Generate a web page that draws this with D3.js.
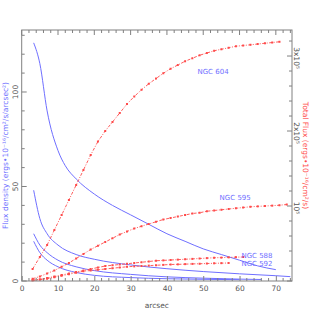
<!DOCTYPE html>
<html><head><meta charset="utf-8">
<script src="https://cdn.jsdelivr.net/npm/d3@7"></script>
<style>body{margin:0;background:#fff}svg{display:block}text{font-family:"DejaVu Sans",sans-serif}</style>
</head><body><div id="c"></div>
<script>
// ---- data ----
const names = ["NGC 604","NGC 595","NGC 588","NGC 592"];
// flux density profiles (left axis)
const r604d = [3.3,5,7,10,12,15,20,25,30,35,40,45,50,55,60,65,70];
const fd604 = [126,115,90,69,61,54,46,40,35,30,25,21,17,14,11,8,6];
const r595d = [3.3,5,7,10,15,20,30,40,50,60,70,74];
const fd595 = [48,33,25,19,14,11.5,8.5,6.5,5,3.8,2.8,2.3];
const r588d = [3.3,5,7,10,15,20,30,40,50,60,66];
const fd588 = [25,19,15,11,7.5,5.5,3.5,2.2,1.5,1,0.8];
const r592d = [3.3,5,7,10,15,20,30,40,50,60];
const fd592 = [21,15,11,7.5,4.5,3,1.8,1.2,0.9,0.7];
// cumulative total flux (right axis, units of 1e5)
const r604t = [3,5,7,9,11,13,15,17,19,21,23,25,27,29,31,33,35,37,39,41,43,45,47,49,51,53,55,57,59,61,63,65,67,69,71];
const tf604 = [0.16,0.32,0.48,0.68,0.88,1.08,1.28,1.48,1.68,1.86,2.0,2.12,2.24,2.36,2.46,2.55,2.63,2.7,2.77,2.83,2.88,2.93,2.97,3.01,3.04,3.07,3.09,3.11,3.13,3.14,3.15,3.16,3.17,3.18,3.19];
const r595t = [3,5,7,9,11,13,15,17,19,21,23,25,27,29,31,33,35,37,39,41,43,45,47,49,51,53,55,57,59,61,63,65,67,69,71,73];
const tf595 = [0.03,0.06,0.1,0.14,0.19,0.24,0.3,0.36,0.42,0.47,0.52,0.57,0.62,0.66,0.7,0.73,0.76,0.79,0.82,0.84,0.86,0.88,0.9,0.91,0.93,0.94,0.95,0.96,0.97,0.98,0.99,0.995,1.0,1.005,1.01,1.02];
const r588t = [3,5,7,9,11,13,15,17,19,21,23,25,27,29,31,33,35,37,39,41,43,45,47,49,51,53,55,57,59,61];
const tf588 = [0.01,0.02,0.04,0.06,0.08,0.1,0.12,0.14,0.16,0.18,0.2,0.21,0.22,0.23,0.24,0.25,0.26,0.27,0.275,0.28,0.285,0.29,0.295,0.3,0.305,0.31,0.312,0.315,0.318,0.32];
const r592t = [3,5,7,9,11,13,15,17,19,21,23,25,27,29,31,33,35,37,39,41,43,45,47,49,51,53,55,57];
const tf592 = [0.01,0.02,0.03,0.05,0.07,0.09,0.11,0.13,0.14,0.15,0.16,0.17,0.18,0.19,0.195,0.2,0.205,0.21,0.215,0.22,0.222,0.225,0.228,0.23,0.233,0.236,0.238,0.24];
const xTicks = [0,10,20,30,40,50,60,70];
const yLeftTicks = [0,50,100];
const yRightTicks = [1,2,3];
const yRightLabels = ["10\u2075","2x10\u2075","3x10\u2075"];

// ---- layout ----
const W=314,H=314, L=21.7, R=292, T=30, B=281;
const blue="#6f6fff", red="#ff4a4a", axc="#808080";
const svg=d3.select("#c").append("svg").attr("width",W).attr("height",H);
const x=d3.scaleLinear().domain([0,74.45]).range([L,R]);
const yl=d3.scaleLinear().domain([0,132.8]).range([B,T]);
const yr=d3.scaleLinear().domain([0,3.347]).range([B,T]);

// curves
const blueSets=[[r604d,fd604],[r595d,fd595],[r588d,fd588],[r592d,fd592]];
const redSets=[[r604t,tf604],[r595t,tf595],[r588t,tf588],[r592t,tf592]];
const lineL=d3.line().x(d=>x(d[0])).y(d=>yl(d[1])).curve(d3.curveMonotoneX);
const lineR=d3.line().x(d=>x(d[0])).y(d=>yr(d[1]));
blueSets.forEach(([xs,ys])=>{
  svg.append("path").attr("d",lineL(xs.map((v,i)=>[v,ys[i]]))).attr("fill","none").attr("stroke",blue).attr("stroke-width",1);
});
redSets.forEach(([xs,ys])=>{
  const pts=xs.map((v,i)=>[v,ys[i]]);
  svg.append("path").attr("d",lineR(pts)).attr("fill","none").attr("stroke",red).attr("stroke-width",0.9).attr("stroke-dasharray","3,1.5,1,1.5");
  svg.append("g").selectAll("rect").data(pts).join("rect")
    .attr("x",d=>x(d[0])-1).attr("y",d=>yr(d[1])-1).attr("width",2).attr("height",2).attr("fill",red);
});

// frame
svg.append("rect").attr("x",L).attr("y",T).attr("width",R-L).attr("height",B-T).attr("fill","none").attr("stroke",axc).attr("stroke-width",1);
// x ticks (inward)
const xb=d3.axisBottom(x).tickValues(xTicks).tickSize(-5).tickPadding(5).tickFormat(d3.format("d"));
const gx=svg.append("g").attr("transform",`translate(0,${B})`).call(xb);
gx.select(".domain").remove();
gx.selectAll("line").attr("stroke",axc);
gx.selectAll("text").attr("fill","#555").attr("font-size",7.5);
const xm=d3.range(0,75,2).filter(v=>v%10!==0);
svg.append("g").selectAll("line").data(xm).join("line").attr("x1",d=>x(d)).attr("x2",d=>x(d)).attr("y1",B).attr("y2",B-3).attr("stroke",axc);
svg.append("g").selectAll("line").data(d3.range(0,75,2)).join("line").attr("x1",d=>x(d)).attr("x2",d=>x(d)).attr("y1",T).attr("y2",d=>T+(d%10===0?5:3)).attr("stroke",axc);
// left ticks
svg.append("g").selectAll("line").data(d3.range(0,133,10)).join("line").attr("x1",L).attr("x2",d=>L+(d%50===0?5:3)).attr("y1",d=>yl(d)).attr("y2",d=>yl(d)).attr("stroke",axc);
svg.append("g").selectAll("text").data(yLeftTicks).join("text")
  .attr("transform",d=>`translate(${L-4},${yl(d)}) rotate(-90)`).attr("text-anchor","middle")
  .attr("font-size",7.5).attr("fill","#555").text(d=>d);
// right ticks
svg.append("g").selectAll("line").data(d3.range(0,3.35,0.2)).join("line").attr("x1",R).attr("x2",(d,i)=>R-(i%5===0?5:3)).attr("y1",d=>yr(d)).attr("y2",d=>yr(d)).attr("stroke",axc);
svg.append("g").selectAll("text").data(yRightTicks).join("text")
  .attr("transform",d=>`translate(${R+2},${yr(d)+2}) rotate(90)`).attr("text-anchor","middle")
  .attr("font-size",7.5).attr("fill","#555").text((d,i)=>yRightLabels[i]);

// axis titles
svg.append("text").attr("x",(L+R)/2).attr("y",308).attr("text-anchor","middle").attr("font-size",7.5).attr("fill","#555").text("arcsec");
svg.append("text").attr("transform",`translate(8,${(T+B)/2}) rotate(-90)`).attr("text-anchor","middle").attr("font-size",7.5).attr("fill",blue)
  .text("Flux density (ergs\u202210\u207B\u00B9\u2076/cm\u00B2/s/arcsec\u00B2)");
svg.append("text").attr("transform",`translate(303,${(T+B)/2}) rotate(90)`).attr("text-anchor","middle").attr("font-size",7.5).attr("fill",red)
  .text("Total Flux (ergs\u202210\u207B\u00B9\u2076/cm\u00B2/s)");

// curve labels (positions in data coords of right axis)
const labX=[52.7,58.8,64.8,64.8], labY=[2.76,1.08,0.31,0.2];
names.forEach((n,i)=>{
  svg.append("text").attr("x",x(labX[i])).attr("y",yr(labY[i])).attr("font-size",7).attr("fill",blue).attr("text-anchor","middle").text(n);
});
</script></body></html>
